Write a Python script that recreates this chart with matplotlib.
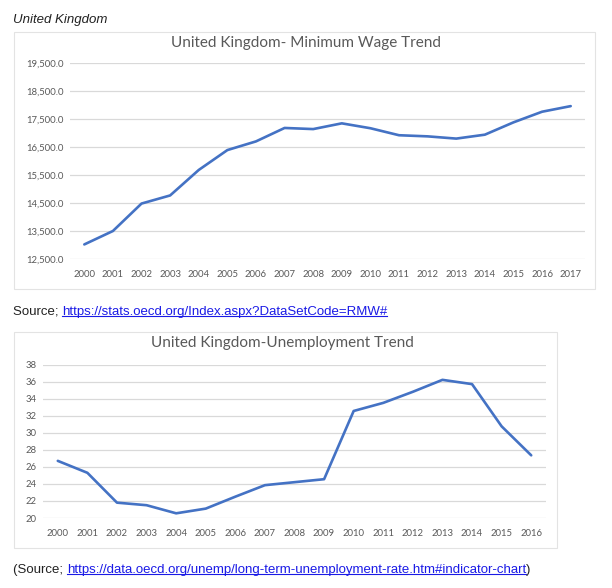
import matplotlib.pyplot as plt
from matplotlib import patches as mpatches
from matplotlib.lines import Line2D

# data
years_wage = [str(y) for y in range(2000, 2018)]
min_wage = [13020, 13500, 14480, 14770, 15680, 16390, 16700, 17180, 17140,
            17345, 17170, 16920, 16880, 16800, 16940, 17380, 17760, 17960]

years_unemp = [str(y) for y in range(2000, 2017)]
unemployment = [26.7, 25.3, 21.8, 21.5, 20.55, 21.1, 22.5, 23.85, 24.2,
                24.55, 32.55, 33.5, 34.8, 36.2, 35.7, 30.75, 27.35]

wage_ticks = [12500, 13500, 14500, 15500, 16500, 17500, 18500, 19500]
unemp_ticks = [20, 22, 24, 26, 28, 30, 32, 34, 36, 38]

W, H = 612, 588
LINE = "#4472C4"
GRID = "#D9D9D9"
TXT = "#595959"
CHART_FONT = ["Lato", "DejaVu Sans"]
PAGE_FONT = ["Liberation Sans", "DejaVu Sans"]
LINK = "#1a1ae6"


def fx(px):
    return px / W


def fy(py):
    return 1 - py / H


def box(fig, x0, y0, x1, y1):
    rect = mpatches.Rectangle((fx(x0), fy(y1)), fx(x1) - fx(x0), fy(y0) - fy(y1),
                              transform=fig.transFigure, fill=False,
                              ec="#E3E3E3", lw=0.8)
    fig.add_artist(rect)


def style_axis(ax, ylim, yticks, fmt):
    ax.set_ylim(*ylim)
    ax.set_yticks(yticks)
    ax.set_yticklabels([fmt(v) for v in yticks])
    for s in ax.spines.values():
        s.set_visible(False)
    ax.grid(axis="y", color=GRID, lw=0.9)
    ax.set_axisbelow(True)
    ax.tick_params(length=0, colors=TXT, labelsize=6.8)
    ax.tick_params(axis="y", pad=4.3)
    ax.tick_params(axis="x", pad=8)
    for lab in ax.get_xticklabels() + ax.get_yticklabels():
        lab.set_family(CHART_FONT)


fig = plt.figure(figsize=(W / 100, H / 100), dpi=100)

fig.text(fx(13), fy(20), "United Kingdom", style="italic", fontsize=9.5,
         family=PAGE_FONT, va="center", ha="left", color="#222222")

# minimum wage chart
box(fig, 14, 32, 595, 289)
ax1 = fig.add_axes([fx(70), fy(259), fx(585) - fx(70), fy(63) - fy(259)])
ax1.plot(years_wage, min_wage, color=LINE, lw=1.9, solid_capstyle="round")
ax1.set_xlim(-0.5, len(years_wage) - 0.5)
style_axis(ax1, (12500, 19500), wage_ticks, lambda v: f"{v:,.1f}")
fig.text(fx(306), fy(43), "United Kingdom- Minimum Wage Trend", ha="center",
         va="center", fontsize=11, color=TXT, family=CHART_FONT)

# unemployment chart
box(fig, 14, 332, 557, 548)
ax2 = fig.add_axes([fx(43), fy(518), fx(546) - fx(43), fy(364.5) - fy(518)])
ax2.plot(years_unemp, unemployment, color=LINE, lw=1.9, solid_capstyle="round")
ax2.set_xlim(-0.5, len(years_unemp) - 0.5)
style_axis(ax2, (20, 38), unemp_ticks, lambda v: f"{v}")
fig.text(fx(282), fy(343.5), "United Kingdom-Unemployment Trend", ha="center",
         va="center", fontsize=11, color=TXT, family=CHART_FONT)

# source lines
links = []
t1 = fig.text(fx(13), fy(312), "Source; ", fontsize=9.5, family=PAGE_FONT,
              va="center", ha="left", color="#222222")
l1 = fig.text(0, 0, "https://stats.oecd.org/Index.aspx?DataSetCode=RMW#",
              fontsize=9.5, family=PAGE_FONT, color=LINK, va="center", ha="left")
links.append((t1, l1))

t2 = fig.text(fx(13), fy(570), "(Source; ", fontsize=9.5, family=PAGE_FONT,
              va="center", ha="left", color="#222222")
l2 = fig.text(0, 0, "https://data.oecd.org/unemp/long-term-unemployment-rate.htm#indicator-chart",
              fontsize=9.5, family=PAGE_FONT, color=LINK, va="center", ha="left")
links.append((t2, l2))

fig.canvas.draw()
r = fig.canvas.get_renderer()
for t, l in links:
    bb = t.get_window_extent(r)
    l.set_position((bb.x1 / W, t.get_position()[1]))
fig.canvas.draw()
lb2 = l2.get_window_extent(r)
fig.text(lb2.x1 / W, t2.get_position()[1], ")", fontsize=9.5, family=PAGE_FONT,
         va="center", ha="left", color="#222222")
for t, l in links:
    lb = l.get_window_extent(r)
    yline = (lb.y0 + 2.5) / H
    fig.add_artist(Line2D([lb.x0 / W, lb.x1 / W], [yline, yline], lw=0.8,
                          color=LINK, transform=fig.transFigure))

fig.savefig("out.png", dpi=100)
